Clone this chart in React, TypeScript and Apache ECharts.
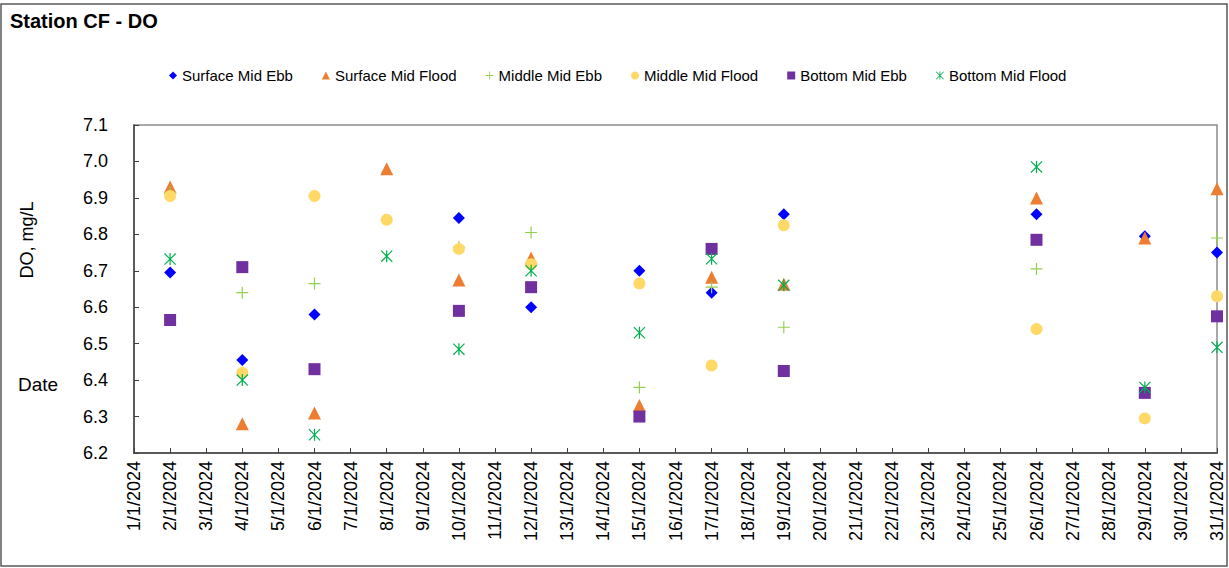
import React, { useEffect, useRef } from "react";
import * as echarts from "echarts";

const dayLabels: string[] = [];
for (let d = 1; d <= 31; d++) dayLabels.push(`${d}/1/2024`);

const sampleDays = [2, 4, 6, 8, 10, 12, 15, 17, 19, 26, 29, 31];

const surfaceEbb = [6.695, 6.455, 6.58, null, 6.845, 6.6, 6.7, 6.64, 6.855, 6.855, 6.795, 6.75];
const surfaceFlood = [6.93, 6.28, 6.31, 6.98, 6.675, 6.735, 6.33, 6.682, 6.663, 6.9, 6.79, 6.925];
const middleEbb = [6.915, 6.64, 6.665, null, 6.765, 6.805, 6.38, 6.655, 6.545, 6.705, null, 6.79];
const middleFlood = [6.905, 6.42, 6.905, 6.84, 6.76, 6.718, 6.665, 6.44, 6.825, 6.54, 6.295, 6.63];
const bottomEbb = [6.565, 6.71, 6.43, null, 6.59, 6.655, 6.3, 6.76, 6.425, 6.785, 6.365, 6.575];
const bottomFlood = [6.732, 6.4, 6.25, 6.74, 6.485, 6.7, 6.53, 6.733, 6.66, 6.985, 6.38, 6.49];

const seriesNames = [
  "Surface Mid Ebb",
  "Surface Mid Flood",
  "Middle Mid Ebb",
  "Middle Mid Flood",
  "Bottom Mid Ebb",
  "Bottom Mid Flood",
];

const PLUS = "path://M0,4.5H10V5.5H0Z M4.5,0H5.5V10H4.5Z";
const ASTER =
  "path://M0,0.7L0.7,0L10,9.3L9.3,10Z M9.3,0L10,0.7L0.7,10L0,9.3Z M4.5,0H5.5V10H4.5Z";

const FONT = "'Liberation Sans', Arial, sans-serif";

function toData(vals: (number | null)[]) {
  return sampleDays
    .map((d, i) => (vals[i] == null ? null : [dayLabels[d - 1], vals[i]]))
    .filter((p) => p !== null);
}

export default function App() {
  const ref = useRef<HTMLDivElement>(null);
  useEffect(() => {
    if (!ref.current) return;
    const chart = echarts.init(ref.current, undefined, { renderer: "svg" });
    const defs = [
      { vals: surfaceEbb, symbol: "diamond", size: 12, color: "#0000FF" },
      { vals: surfaceFlood, symbol: "triangle", size: 13, color: "#ED7D31" },
      { vals: middleEbb, symbol: PLUS, size: 12, color: "#92D050" },
      { vals: middleFlood, symbol: "circle", size: 12, color: "#FFD966" },
      { vals: bottomEbb, symbol: "rect", size: 12, color: "#7030A0" },
      { vals: bottomFlood, symbol: ASTER, size: 12, color: "#00B050" },
    ];
    chart.setOption({
      animation: false,
      backgroundColor: "#ffffff",
      textStyle: { fontFamily: FONT },
      title: {
        text: "Station CF - DO",
        left: 5,
        top: 6,
        textStyle: { fontFamily: FONT, fontSize: 20, fontWeight: "bold", color: "#000" },
      },
      legend: {
        left: 164,
        top: 63,
        itemWidth: 8,
        itemHeight: 8,
        itemGap: 29,
        textStyle: { fontFamily: FONT, fontSize: 15, color: "#000" },
        data: seriesNames,
      },
      grid: {
        left: 134,
        right: 12,
        top: 125,
        bottom: 115,
        show: true,
        borderColor: "#8c8c8c",
        borderWidth: 1.5,
      },
      xAxis: {
        type: "category",
        data: dayLabels,
        boundaryGap: false,
        axisLine: { lineStyle: { color: "#404040", width: 1.5 } },
        axisTick: { inside: true, length: 5, interval: 0, lineStyle: { color: "#404040" } },
        axisLabel: {
          interval: 0,
          rotate: 90,
          margin: 8,
          fontFamily: FONT,
          fontSize: 18,
          color: "#000",
        },
        splitLine: { show: false },
      },
      yAxis: {
        type: "value",
        min: 6.2,
        max: 7.1,
        interval: 0.1,
        axisLine: { show: true, lineStyle: { color: "#404040", width: 1.5 } },
        axisTick: { show: true, inside: true, length: 5, lineStyle: { color: "#404040" } },
        axisLabel: {
          margin: 26,
          fontFamily: FONT,
          fontSize: 18,
          color: "#000",
          formatter: (v: number) => v.toFixed(1),
        },
        splitLine: { show: false },
      },
      graphic: [
        {
          type: "rect",
          shape: { x: 1, y: 4, width: 1226, height: 562 },
          style: { fill: "none", stroke: "#595959", lineWidth: 1.5 },
          silent: true,
        },
        {
          type: "text",
          x: 27,
          y: 240,
          rotation: Math.PI / 2,
          style: {
            text: "DO, mg/L",
            fontFamily: FONT,
            fontSize: 18,
            fill: "#000",
            align: "center",
            verticalAlign: "middle",
          },
        },
        {
          type: "text",
          x: 18,
          y: 384,
          style: {
            text: "Date",
            fontFamily: FONT,
            fontSize: 19,
            fill: "#000",
            align: "left",
            verticalAlign: "middle",
          },
        },
      ],
      series: defs.map((d, i) => ({
        name: seriesNames[i],
        type: "scatter",
        clip: false,
        symbol: d.symbol,
        symbolSize: d.size,
        itemStyle: { color: d.color, opacity: 1 },
        data: toData(d.vals),
      })),
    });
    return () => chart.dispose();
  }, []);
  return (
    <div
      ref={ref}
      style={{ position: "fixed", left: 0, top: 0, width: 1229, height: 568 }}
    />
  );
}
